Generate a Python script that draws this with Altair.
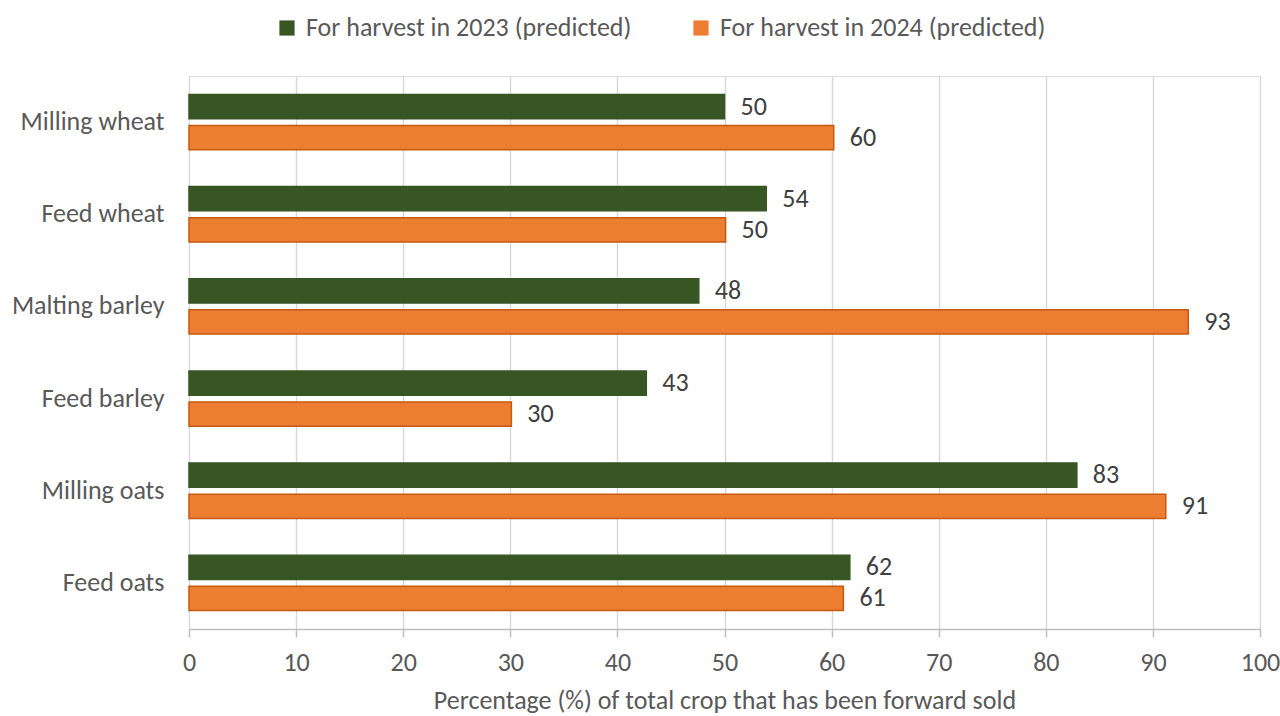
import altair as alt
import pandas as pd

categories = ["Milling wheat", "Feed wheat", "Malting barley", "Feed barley", "Milling oats", "Feed oats"]
series = ["For harvest in 2023 (predicted)", "For harvest in 2024 (predicted)"]
v2023 = [50.0, 53.9, 47.6, 42.7, 82.9, 61.7]
v2024 = [60.2, 50.1, 93.3, 30.1, 91.2, 61.1]
x_ticks = [0, 10, 20, 30, 40, 50, 60, 70, 80, 90, 100]

rows = []
for c, a, b in zip(categories, v2023, v2024):
    rows.append({"crop": c, "series": series[0], "value": a})
    rows.append({"crop": c, "series": series[1], "value": b})
df = pd.DataFrame(rows)

FONT = "Carlito, Open Sans"
TXT = "#595959"
FS = 26

y_enc = alt.Y("crop:N", sort=categories, title=None,
              scale=alt.Scale(paddingInner=0.4, paddingOuter=0.2),
              axis=alt.Axis(labelFontSize=FS, labelColor=TXT, labelFont=FONT, ticks=False,
                            domain=False, labelPadding=25, labelLimit=400))
yoff = alt.YOffset("series:N", sort=series, scale=alt.Scale(paddingInner=0.22))

base = alt.Chart(df)

bars = base.mark_bar(strokeWidth=1.5).encode(
    y=y_enc,
    yOffset=yoff,
    x=alt.X("value:Q", title="Percentage (%) of total crop that has been forward sold",
            scale=alt.Scale(domain=[0, 100], nice=False),
            axis=alt.Axis(values=x_ticks, labelFontSize=FS, labelColor=TXT, labelFont=FONT,
                          labelFlush=False,
                          titleFontSize=FS, titleColor=TXT, titleFont=FONT, titleFontWeight="normal",
                          titlePadding=12, gridColor="#D9D9D9", gridWidth=1.5,
                          domainColor="#BFBFBF", domainWidth=1.5, tickColor="#BFBFBF",
                          tickSize=8, tickWidth=1.5, labelPadding=12)),
    color=alt.Color("series:N", sort=series, title=None,
                    scale=alt.Scale(domain=series, range=["#375623", "#ED7D31"]),
                    legend=alt.Legend(orient="none", legendX=85, legendY=-61, direction="horizontal",
                                      symbolType="square", symbolSize=230, labelFontSize=FS,
                                      labelColor=TXT, labelFont=FONT, columnPadding=56,
                                      labelLimit=1000, symbolStrokeWidth=0, labelOffset=6)),
    stroke=alt.Stroke("series:N", sort=series, legend=None,
                      scale=alt.Scale(domain=series, range=["#375623", "#C55A11"])),
)

labels = base.mark_text(align="left", baseline="middle", dx=16, fontSize=FS, color="#404040",
                        font=FONT).encode(
    y=alt.Y("crop:N", sort=categories),
    yOffset=yoff,
    x="value:Q",
    text=alt.Text("value:Q", format=".0f"),
)

chart = (bars + labels).properties(
    width=1071, height=553,
    autosize=alt.AutoSizeParams(type="none"),
    padding={"left": 189, "top": 76, "right": 20, "bottom": 87},
).configure_view(stroke=None).configure(background="white")

chart.save("out.html", embed_options={"renderer": "svg", "actions": False})
